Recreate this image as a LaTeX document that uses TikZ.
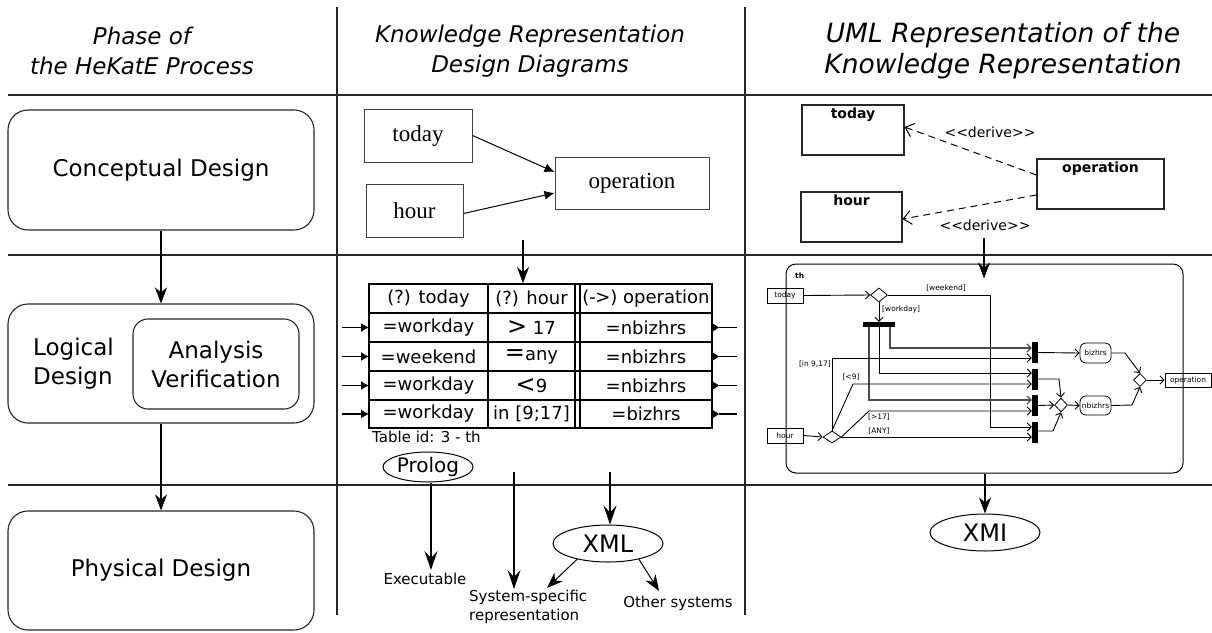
\documentclass[tikz,border=0pt]{standalone}
\usepackage{fontspec}
\setmainfont{DejaVu Sans}
\newfontfamily\serifnode{Liberation Serif}
\usetikzlibrary{arrows.meta,shapes.geometric}
\begin{document}
\begin{tikzpicture}[x=1pt,y=-1pt,
  sep/.style={line width=1.3pt, black!85},
  hdr/.style={align=center, inner sep=0pt, font=\fontsize{23}{30}\selectfont\itshape},
  phase/.style={draw, line width=1.1pt, black!85, text=black, rounded corners=20pt, inner sep=0pt, font=\fontsize{23}{29}\selectfont, align=center},
  bigA/.style={-{Stealth[length=16pt,width=12pt,inset=5pt]}, line width=1.2pt},
  bigB/.style={-{Stealth[length=19pt,width=13pt,inset=7pt]}, line width=1.3pt},
  kbox/.style={draw, line width=1pt, black!75, text=black, inner sep=0pt, font=\serifnode\fontsize{23}{26}\selectfont},
  tri/.style={-{Latex[length=10pt,width=9pt]}, line width=1pt},
  cell/.style={inner sep=0pt, font=\fontsize{18}{20}\selectfont},
  small/.style={inner sep=0pt, font=\fontsize{15}{19}\selectfont},
  oval/.style={draw, ellipse, line width=1pt, inner sep=0pt},
  umlbox/.style={draw, line width=1.1pt, black!85, inner sep=0pt},
  umltxt/.style={inner sep=0pt, font=\fontsize{14}{16}\selectfont\bfseries},
  derive/.style={dash pattern=on 7pt off 5pt, line width=1pt, -{Straight Barb[length=8pt,width=14pt]}},
  dlabel/.style={inner sep=0pt, font=\fontsize{14}{16}\selectfont},
  abox/.style={draw, line width=0.8pt, inner sep=0pt, font=\fontsize{7.5}{9}\selectfont},
  rbox/.style={draw, line width=0.8pt, rounded corners=6pt, inner sep=0pt, font=\fontsize{7.5}{9}\selectfont},
  dia/.style={draw, diamond, line width=0.8pt, inner sep=0pt},
  bar/.style={fill=black, inner sep=0pt, minimum width=6pt, minimum height=21pt},
  aarr/.style={line width=0.9pt, -{Straight Barb[length=4pt,width=8pt]}},
  alab/.style={inner sep=0pt, font=\fontsize{7.5}{9}\selectfont}
]
\useasboundingbox (0,0) rectangle (1212,632);

% separators
\draw[sep] (337,7) -- (337,615);
\draw[sep] (745,7) -- (745,615);
\draw[sep] (8,95) -- (1212,95);
\draw[sep] (8,255) -- (1212,255);
\draw[sep] (8,485) -- (1212,485);

% headers
\node[hdr] (h1) at (142,51) {Phase of\\the HeKatE Process};
\node[hdr] (h2) at (530,51) {Knowledge Representation\\Design Diagrams};
\node[hdr, font=\fontsize{26.5}{31}\selectfont\itshape] (h3) at (1003,51) {UML Representation of the\\Knowledge Representation};

% left column
\node[phase, minimum width=306pt, minimum height=120pt] (cd) at (161,170) {Conceptual Design};
\node[phase, minimum width=306pt, minimum height=119pt] (ld) at (161,363.5) {};
\node[phase, rounded corners=15pt, minimum width=166pt, minimum height=90pt] (av) at (216,364) {Analysis\\Verification};
\node[inner sep=0pt, anchor=west, align=left, font=\fontsize{23}{29}\selectfont] (ldt) at (33,364) {Logical\\Design};
\node[phase, minimum width=306pt, minimum height=119pt] (pd) at (161,570.5) {Physical Design};
\draw[bigA] (cd) -- (ld);
\draw[bigA] (ld) -- (pd);

% middle column, top
\node[kbox, minimum width=108pt, minimum height=53pt] (kt) at (418,135.5) {today};
\node[kbox, minimum width=97pt, minimum height=53pt] (kh) at (414.5,210.5) {hour};
\node[kbox, minimum width=154pt, minimum height=52pt] (ko) at (632,183) {operation};
\draw[tri] (kt.east) -- ([yshift=11pt]ko.west);
\draw[tri] ([yshift=-3pt]kh.east) -- ([yshift=-10pt]ko.west);

% table
\node[draw, line width=1.8pt, minimum width=343pt, minimum height=144pt, inner sep=0pt] (tbl) at (540.5,356) {};
\coordinate (ta) at (523,240);
\draw[bigA] (ta) -- (ta |- tbl.north);
\foreach \yy in {313,342,371,400} { \draw[line width=1.2pt] (369,\yy) -- (712,\yy); }
\draw[line width=1.2pt] (488,284) -- (488,428);
\draw[line width=1.2pt] (575,284) -- (575,428);
\draw[line width=1.2pt] (580,284) -- (580,428);
\node[cell] (c01) at (428.5,298.5) {(?) today};
\node[cell] (c02) at (531.5,298.5) {(?) hour};
\node[cell] (c03) at (646,298.5) {(-\kern-0.5pt>) operation};
\node[cell] (c11) at (428.5,327.5) {=workday};
\node[cell] (c12) at (531.5,327.5) {{\fontsize{24}{24}\selectfont >} 17};
\node[cell] (c13) at (646,327.5) {=nbizhrs};
\node[cell] (c21) at (428.5,356.5) {=weekend};
\node[cell] (c22) at (531.5,356.5) {{\fontsize{24}{24}\selectfont =}any};
\node[cell] (c23) at (646,356.5) {=nbizhrs};
\node[cell] (c31) at (428.5,385.5) {=workday};
\node[cell] (c32) at (531.5,385.5) {{\fontsize{24}{24}\selectfont <}9};
\node[cell] (c33) at (646,385.5) {=nbizhrs};
\node[cell] (c41) at (428.5,414) {=workday};
\node[cell] (c42) at (531.5,414) {in [9;17]};
\node[cell] (c43) at (646,414) {=bizhrs};
\foreach \yy in {327.5,356.5,385.5,414} {
  \draw[line width=1.2pt, -{Latex[length=8pt,width=9pt]}] (342,\yy) -- (369,\yy);
  \fill (712,\yy-4.5) -- (719,\yy) -- (712,\yy+4.5) -- cycle;
  \draw[line width=1.2pt] (719,\yy) -- (737,\yy);
}
\node[small, anchor=west] (tid) at (372,437) {Table id: 3 - th};
\node[oval, minimum width=90pt, minimum height=30pt, font=\fontsize{20}{22}\selectfont] (pl) at (428,467) {Prolog};

% middle column, bottom
\node[small] (exe) at (425,579) {Executable};
\draw[bigB] ([xshift=3pt]pl.south) -- ([xshift=3pt,yshift=3pt]pl.south |- exe.north);
\node[small, anchor=north west, align=left] (sys) at (469,590) {System-specific\\representation};
\coordinate (s0) at (514,472);
\draw[bigB] (s0) -- ([yshift=1pt]s0 |- sys.north);
\node[oval, minimum width=110pt, minimum height=37pt, font=\fontsize{24}{26}\selectfont] (xml) at (608,543.5) {XML};
\coordinate (x0) at (610,472);
\draw[bigB] (x0) -- (x0 |- xml.north);
\node[small] (oth) at (678,603) {Other systems};
\coordinate (sysin) at (547,588);
\coordinate (othin) at (659,591);
\draw[bigA, line width=1pt] (xml.207) -- (sysin);
\draw[bigA, line width=1pt] (xml.333) -- (othin);

% right column, top
\node[umlbox, minimum width=102pt, minimum height=50pt] (ut) at (853,130) {};
\node[umltxt, anchor=north] (utt) at ([yshift=-3pt]ut.north) {today};
\node[umlbox, minimum width=101pt, minimum height=50pt] (uh) at (851.5,217) {};
\node[umltxt, anchor=north] (uht) at ([yshift=-3pt]uh.north) {hour};
\node[umlbox, minimum width=127pt, minimum height=50pt] (uo) at (1100.5,184) {};
\node[umltxt, anchor=north] (uot) at ([yshift=-3pt]uo.north) {operation};
\draw[derive] ([yshift=9pt]uo.west) -- ([yshift=3pt]ut.east);
\draw[derive] ([yshift=-11pt]uo.west) -- ([yshift=-2pt]uh.east);
\node[dlabel] (dl1) at (990,132) {<\kern0pt<derive>\kern0pt>};
\node[dlabel] (dl2) at (985,225) {<\kern0pt<derive>\kern0pt>};

% activity diagram
\node[draw, line width=1pt, rounded corners=10pt, minimum width=397pt, minimum height=209pt, inner sep=0pt] (fr) at (984.5,368.5) {};
\node[alab, anchor=west, font=\fontsize{7.5}{9}\selectfont\bfseries] (th) at (795,276) {th};
\coordinate (ua) at (984,238);
\draw[bigA] (ua) -- ([yshift=-15pt]ua |- fr.north);

\node[abox, minimum width=36pt, minimum height=15pt] (at) at (785,295.5) {today};
\node[abox, minimum width=36pt, minimum height=15pt] (ah) at (785,435.5) {hour};
\node[dia, minimum width=17pt, minimum height=14pt] (d1) at (879,295) {};
\node[fill=black, inner sep=0pt, minimum width=32pt, minimum height=5pt] (fork) at (879,324.5) {};
\node[dia, minimum width=18pt, minimum height=12pt] (d2) at (832,437) {};
\node[bar] (b1) at (1035,352.5) {};
\node[bar] (b2) at (1035,379) {};
\node[bar] (b3) at (1035,405.5) {};
\node[bar] (b4) at (1035,432) {};
\node[rbox, minimum width=31pt, minimum height=20pt] (biz) at (1095.5,353) {bizhrs};
\node[rbox, minimum width=31pt, minimum height=19pt] (nbiz) at (1095.5,405.5) {nbizhrs};
\node[dia, minimum width=13pt, minimum height=14pt] (d3) at (1061,405) {};
\node[dia, minimum width=13pt, minimum height=13pt] (d4) at (1140,380) {};
\node[abox, minimum width=46pt, minimum height=14pt] (aop) at (1188,380) {operation};

\draw[aarr] (at.east) -- (d1.west);
\draw[aarr] (d1.east) -- (990,295) -- (990,427) -- (b4.west |- 0,427);
\node[alab] (lw) at (946,288) {[weekend]};
\draw[aarr] (d1.south) -- (fork.north);
\node[alab, anchor=west] (lwd) at (882,309) {[workday]};
\draw[aarr, black!70, line width=1.2pt] (fork.south -| 890,0) -- (890,348) -- (b1.west |- 0,348);
\draw[aarr] (fork.south) -- (879,373) -- (b2.west |- 0,373);
\draw[aarr, black!70, line width=1.2pt] (fork.south -| 869,0) -- (869,400) -- (b3.west |- 0,400);
\draw[aarr] (ah.east) -- (d2.west);
\draw[aarr] (d2.north) -- (832,358) -- (b1.west |- 0,358);
\node[alab, anchor=east] (lin) at (831,364) {[in 9,17]};
\draw[aarr] (d2.north) -- (853,384) -- (b2.west |- 0,384);
\node[alab] (llt) at (851,377) {[<9]};
\draw[aarr] (d2.east) -- (869,411) -- (b3.west |- 0,411);
\node[alab] (lgt) at (879,417) {[>17]};
\draw[aarr] (d2.east) -- (b4.west |- d2.east);
\node[alab] (lany) at (879,431) {[ANY]};

\draw[aarr] (b1.east) -- (biz.west);
\draw[aarr] (biz.east) -- (1125,353) -- (d4.north);
\draw[aarr] (b2.east) -- (1059,379) -- (d3.north);
\draw[aarr] (b3.east) -- (d3.west);
\draw[aarr] (b4.east |- 0,431) -- (1053,431) -- (d3.south);
\draw[aarr] (d3.east) -- (nbiz.west);
\draw[aarr] (nbiz.east) -- (1132,405) -- (d4.south);
\draw[aarr] (d4.east) -- (aop.west);

% XMI
\node[oval, minimum width=110pt, minimum height=37pt, font=\fontsize{24}{26}\selectfont] (xmi) at (985,532.5) {XMI};
\draw[bigA] (xmi.north |- fr.south) -- (xmi.north);
\end{tikzpicture}
\end{document}
